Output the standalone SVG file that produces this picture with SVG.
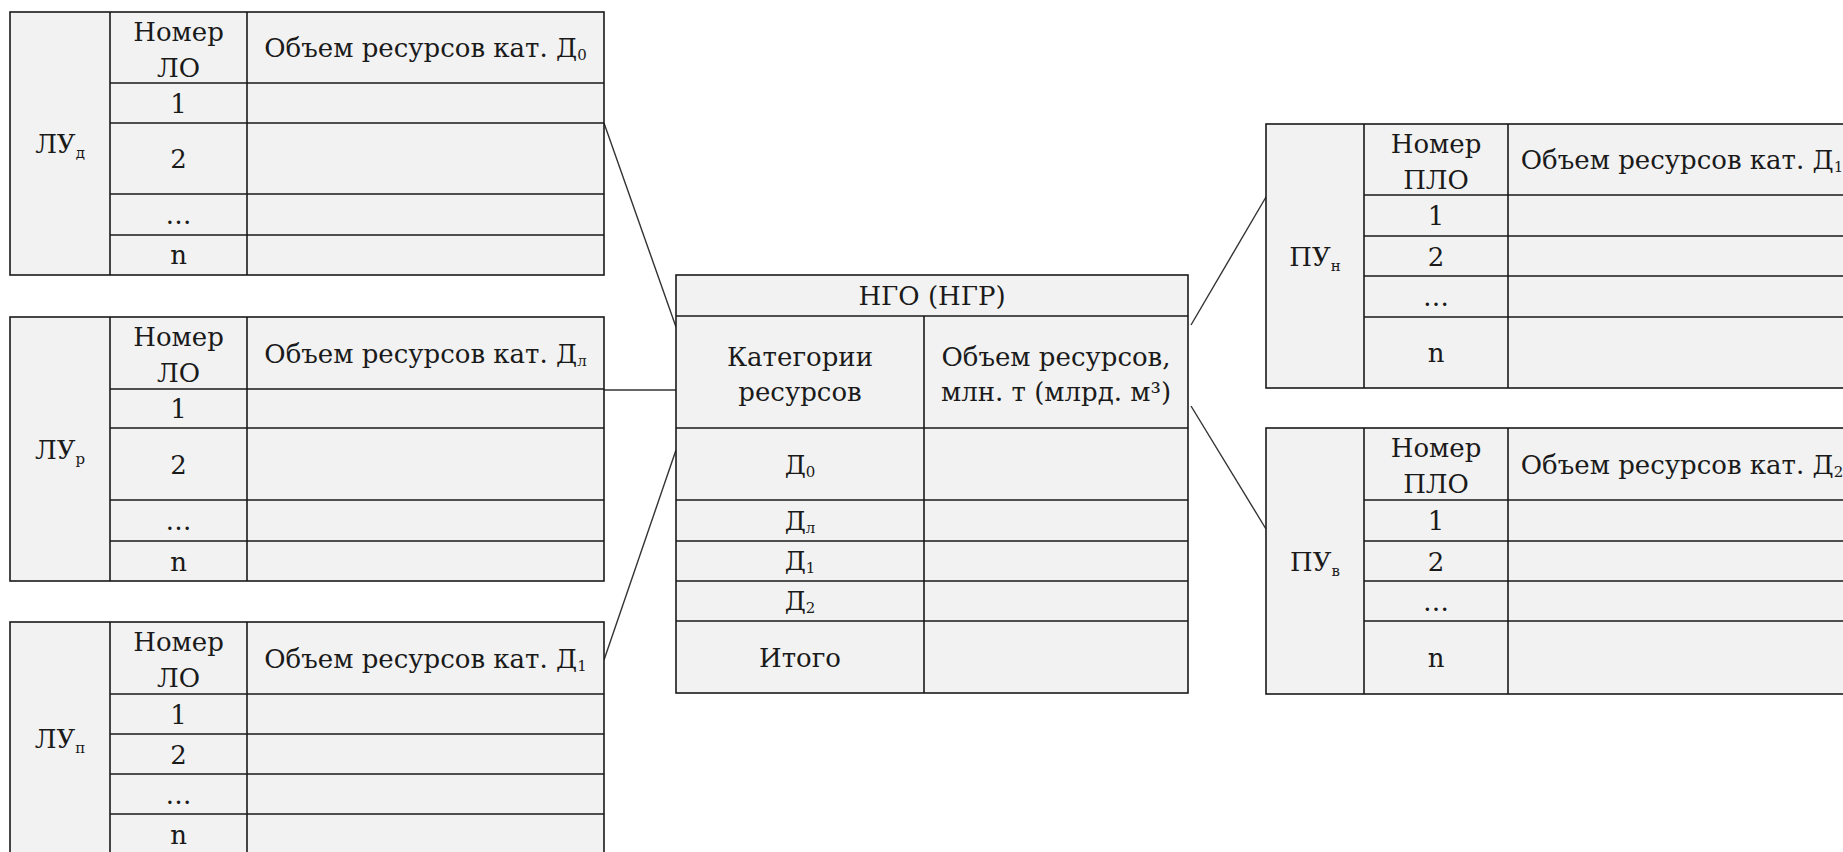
<svg xmlns="http://www.w3.org/2000/svg" width="1843" height="852" viewBox="0 0 1843 852">
<style>
.bg{fill:#ffffff}
.cell{fill:#f2f2f2;stroke:#1a1a1a;stroke-width:1.6}
.grid{stroke:#1a1a1a;stroke-width:1.6;fill:none}
.t{font-family:"DejaVu Serif","Liberation Serif",serif;font-size:26px;fill:#1a1a1a;text-anchor:middle}
.sub{font-size:15px}
.conn{stroke:#333333;stroke-width:1.4;fill:none}
</style>
<rect class="bg" x="0" y="0" width="1843" height="852"/>

<g id="conn">
<line class="conn" x1="604" y1="123" x2="676" y2="327"/>
<line class="conn" x1="604" y1="390" x2="676" y2="390"/>
<line class="conn" x1="604" y1="660" x2="676" y2="450"/>
<line class="conn" x1="1191" y1="325" x2="1266" y2="197"/>
<line class="conn" x1="1191" y1="406" x2="1266" y2="529"/>
</g>

<g id="lu-d">
<rect class="cell" x="10" y="12" width="594" height="263"/>
<path class="grid" d="M110 12V275M247 12V275M110 83H604M110 123H604M110 194H604M110 235H604"/>
<text class="t" x="60" y="153">ЛУ<tspan class="sub" dy="5">д</tspan></text>
<text class="t" x="178.5" y="41">Номер</text>
<text class="t" x="178.5" y="77">ЛО</text>
<text class="t" x="425.5" y="57">Объем ресурсов кат. Д<tspan class="sub" dy="3">0</tspan></text>
<text class="t" x="178.5" y="113">1</text>
<text class="t" x="178.5" y="168">2</text>
<text class="t" x="178.5" y="224">…</text>
<text class="t" x="178.5" y="264">n</text>
</g>

<g id="lu-r">
<rect class="cell" x="10" y="317" width="594" height="264"/>
<path class="grid" d="M110 317V581M247 317V581M110 389H604M110 428H604M110 500H604M110 541H604"/>
<text class="t" x="60" y="459">ЛУ<tspan class="sub" dy="5">р</tspan></text>
<text class="t" x="178.5" y="346">Номер</text>
<text class="t" x="178.5" y="382">ЛО</text>
<text class="t" x="425.5" y="363">Объем ресурсов кат. Д<tspan class="sub" dy="3">л</tspan></text>
<text class="t" x="178.5" y="418">1</text>
<text class="t" x="178.5" y="473.5">2</text>
<text class="t" x="178.5" y="530">…</text>
<text class="t" x="178.5" y="570.5">n</text>
</g>

<g id="lu-p">
<rect class="cell" x="10" y="622" width="594" height="232"/>
<path class="grid" d="M110 622V854M247 622V854M110 694H604M110 734H604M110 774H604M110 814H604"/>
<text class="t" x="60" y="748">ЛУ<tspan class="sub" dy="5">п</tspan></text>
<text class="t" x="178.5" y="651">Номер</text>
<text class="t" x="178.5" y="687">ЛО</text>
<text class="t" x="425.5" y="668">Объем ресурсов кат. Д<tspan class="sub" dy="3">1</tspan></text>
<text class="t" x="178.5" y="723.5">1</text>
<text class="t" x="178.5" y="763.5">2</text>
<text class="t" x="178.5" y="803.5">…</text>
<text class="t" x="178.5" y="843.5">n</text>
</g>

<g id="ngo">
<rect class="cell" x="676" y="275" width="512" height="418"/>
<path class="grid" d="M676 316H1188M924 316V693M676 428H1188M676 500H1188M676 541H1188M676 581H1188M676 621H1188"/>
<text class="t" x="932" y="305">НГО (НГР)</text>
<text class="t" x="800" y="366">Категории</text>
<text class="t" x="800" y="401">ресурсов</text>
<text class="t" x="1056" y="366">Объем ресурсов,</text>
<text class="t" x="1056" y="401">млн. т (млрд. м³)</text>
<text class="t" x="800" y="474">Д<tspan class="sub" dy="3">0</tspan></text>
<text class="t" x="800" y="530">Д<tspan class="sub" dy="3">л</tspan></text>
<text class="t" x="800" y="570">Д<tspan class="sub" dy="3">1</tspan></text>
<text class="t" x="800" y="610">Д<tspan class="sub" dy="3">2</tspan></text>
<text class="t" x="800" y="666.5">Итого</text>
</g>

<g id="pu-n">
<rect class="cell" x="1266" y="124" width="586" height="264"/>
<path class="grid" d="M1364 124V388M1508 124V388M1364 195H1852M1364 236H1852M1364 276H1852M1364 317H1852"/>
<text class="t" x="1315" y="266">ПУ<tspan class="sub" dy="5">н</tspan></text>
<text class="t" x="1436" y="153">Номер</text>
<text class="t" x="1436" y="189">ПЛО</text>
<text class="t" x="1682" y="169">Объем ресурсов кат. Д<tspan class="sub" dy="3">1</tspan></text>
<text class="t" x="1436" y="225">1</text>
<text class="t" x="1436" y="265.5">2</text>
<text class="t" x="1436" y="306">…</text>
<text class="t" x="1436" y="362">n</text>
</g>

<g id="pu-v">
<rect class="cell" x="1266" y="428" width="586" height="266"/>
<path class="grid" d="M1364 428V694M1508 428V694M1364 500H1852M1364 541H1852M1364 581H1852M1364 621H1852"/>
<text class="t" x="1315" y="571">ПУ<tspan class="sub" dy="5">в</tspan></text>
<text class="t" x="1436" y="457">Номер</text>
<text class="t" x="1436" y="493">ПЛО</text>
<text class="t" x="1682" y="474">Объем ресурсов кат. Д<tspan class="sub" dy="3">2</tspan></text>
<text class="t" x="1436" y="530">1</text>
<text class="t" x="1436" y="570.5">2</text>
<text class="t" x="1436" y="610.5">…</text>
<text class="t" x="1436" y="667">n</text>
</g>
</svg>
